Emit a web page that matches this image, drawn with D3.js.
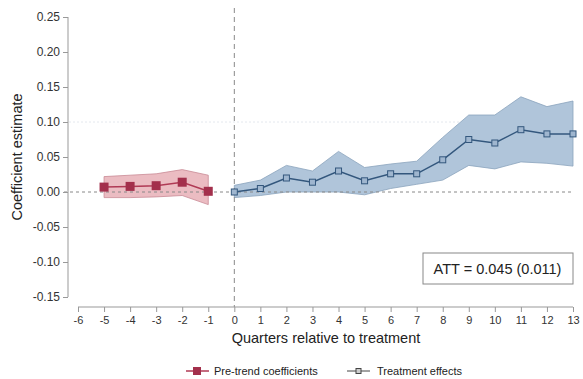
<!DOCTYPE html>
<html><head><meta charset="utf-8">
<script src="https://cdn.jsdelivr.net/npm/d3@7"></script>
<style>body{margin:0;background:#fff;} text{font-family:"Liberation Sans",Arial,sans-serif;}</style>
</head><body><svg id="c" width="583" height="379"></svg>
<script>
const preX = [-5,-4,-3,-2,-1];
const preEst = [0.007,0.008,0.009,0.014,0.001];
const preHi = [0.022,0.024,0.026,0.032,0.024];
const preLo = [-0.008,-0.008,-0.007,-0.005,-0.018];
const postX = [0,1,2,3,4,5,6,7,8,9,10,11,12,13];
const postEst = [0.000,0.005,0.020,0.014,0.030,0.016,0.026,0.026,0.046,0.075,0.070,0.089,0.083,0.083];
const postHi = [0.0095,0.017,0.038,0.030,0.058,0.035,0.040,0.044,0.078,0.110,0.110,0.136,0.122,0.130];
const postLo = [-0.008,-0.005,0.000,0.000,0.000,-0.004,0.005,0.011,0.017,0.038,0.033,0.043,0.041,0.037];
const yTicks = [0.25,0.20,0.15,0.10,0.05,0.00,-0.05,-0.10,-0.15];
const xTicks = d3.range(-6,14);
const attLabel = "ATT = 0.045 (0.011)";

const svg = d3.select("#c");
const x = d3.scaleLinear().domain([-6,13]).range([78,573]);
const y = d3.scaleLinear().domain([-0.15,0.25]).range([297,17]);

svg.append("line").attr("x1",69).attr("x2",573).attr("y1",y(0.10)).attr("y2",y(0.10))
  .attr("stroke","#e4e8ee").attr("stroke-dasharray","2,2");

const area = d3.area().x(d=>x(d.x)).y0(d=>y(d.lo)).y1(d=>y(d.hi));
const pre = preX.map((v,i)=>({x:v,e:preEst[i],hi:preHi[i],lo:preLo[i]}));
const post = postX.map((v,i)=>({x:v,e:postEst[i],hi:postHi[i],lo:postLo[i]}));
svg.append("path").datum(pre).attr("d",area).attr("fill","#ebbcc2")
  .attr("stroke","#c98a95").attr("stroke-width",0.8);
svg.append("path").datum(post).attr("d",area).attr("fill","#b0c5da")
  .attr("stroke","#8aa3bd").attr("stroke-width",0.8);

svg.append("line").attr("x1",64).attr("x2",573).attr("y1",y(0)).attr("y2",y(0))
  .attr("stroke","#888").attr("stroke-width",1).attr("stroke-dasharray","3,3");
svg.append("line").attr("x1",x(0)).attr("x2",x(0)).attr("y1",8).attr("y2",307)
  .attr("stroke","#888").attr("stroke-width",1).attr("stroke-dasharray","5,4");

const line = d3.line().x(d=>x(d.x)).y(d=>y(d.e));
svg.append("path").datum(pre).attr("d",line).attr("fill","none").attr("stroke","#b03a55").attr("stroke-width",1.5);
svg.selectAll(".pm").data(pre).enter().append("rect")
  .attr("x",d=>x(d.x)-4.5).attr("y",d=>y(d.e)-4.5).attr("width",9).attr("height",9)
  .attr("fill","#a3304c");
svg.append("path").datum(post).attr("d",line).attr("fill","none").attr("stroke","#33577d").attr("stroke-width",1.5);
svg.selectAll(".qm").data(post).enter().append("rect")
  .attr("x",d=>x(d.x)-3).attr("y",d=>y(d.e)-3).attr("width",6).attr("height",6)
  .attr("fill","#9fb6cf").attr("stroke","#33577d").attr("stroke-width",1);

const ya = svg.append("g").attr("transform","translate(68,0)")
  .call(d3.axisLeft(y).tickValues(yTicks).tickFormat(d=>d.toFixed(2)).tickSize(5).tickPadding(3));
ya.select(".domain").attr("stroke","#999").attr("d",`M-0,${y(0.25)}V${y(-0.15)}`);
ya.selectAll(".tick line").attr("stroke","#999");
ya.selectAll("text").attr("fill","#333").attr("font-size",12).attr("font-family","Liberation Sans, Arial");

const xa = svg.append("g").attr("transform","translate(0,307)")
  .call(d3.axisBottom(x).tickValues(xTicks).tickFormat(d=>String(d)).tickSize(5));
xa.select(".domain").attr("stroke","#999").attr("d",`M${x(-6)},0H${x(13)}`);
xa.selectAll(".tick line").attr("stroke","#999");
xa.selectAll("text").attr("fill","#333").attr("font-size",11).attr("dy","0.85em").attr("font-family","Liberation Sans, Arial");

svg.append("text").attr("x",326).attr("y",343).attr("text-anchor","middle")
  .attr("font-size",14.5).attr("fill","#222").text("Quarters relative to treatment");
svg.append("text").attr("transform","translate(22,157) rotate(-90)").attr("text-anchor","middle")
  .attr("font-size",14.5).attr("fill","#222").text("Coefficient estimate");

svg.append("rect").attr("x",423).attr("y",253).attr("width",150).attr("height",31)
  .attr("fill","#fff").attr("stroke","#888").attr("stroke-width",1);
svg.append("text").attr("x",497.5).attr("y",274).attr("text-anchor","middle")
  .attr("font-size",14.5).attr("fill","#222").text(attLabel);

const lg = svg.append("g");
lg.append("line").attr("x1",186).attr("x2",209).attr("y1",371).attr("y2",371).attr("stroke","#b03a55").attr("stroke-width",1.5);
lg.append("rect").attr("x",193).attr("y",367).attr("width",8).attr("height",8).attr("fill","#a3304c");
lg.append("text").attr("x",214).attr("y",375).attr("font-size",11).attr("fill","#222").text("Pre-trend coefficients");
lg.append("line").attr("x1",347).attr("x2",370).attr("y1",371).attr("y2",371).attr("stroke","#444").attr("stroke-width",1);
lg.append("rect").attr("x",356).attr("y",368.5).attr("width",5).attr("height",5).attr("fill","#ccc").attr("stroke","#444");
lg.append("text").attr("x",377).attr("y",375).attr("font-size",11).attr("fill","#222").text("Treatment effects");
</script></body></html>
